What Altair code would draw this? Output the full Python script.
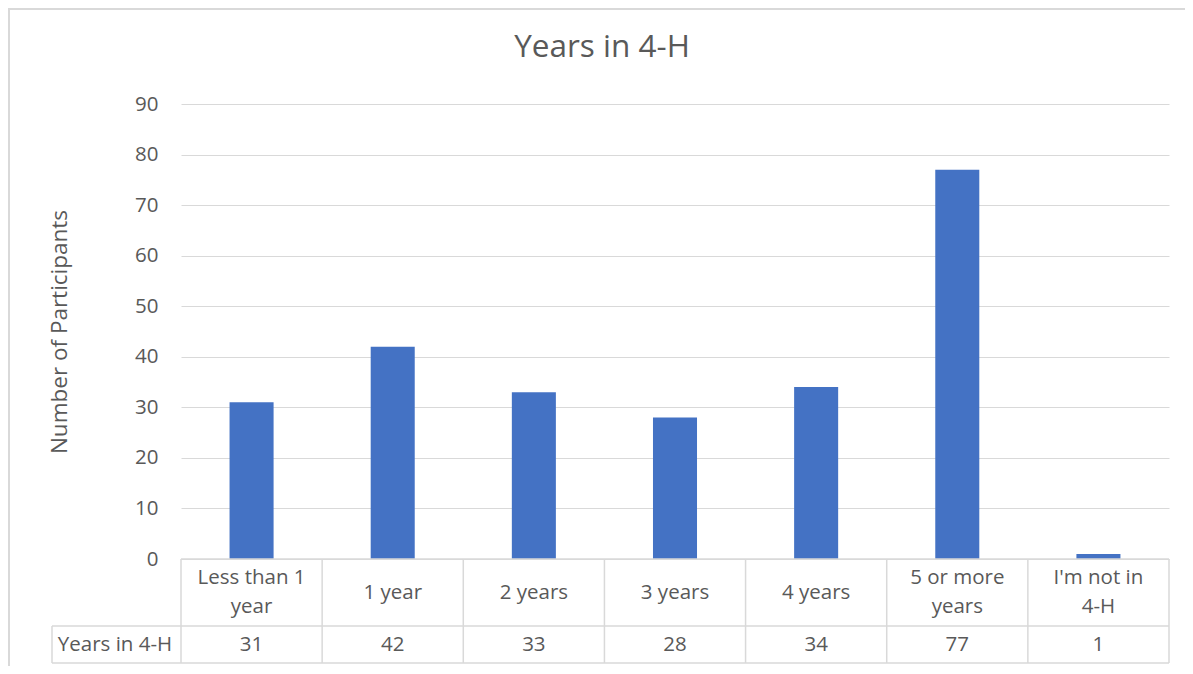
import altair as alt
import pandas as pd

categories = ["Less than 1 year", "1 year", "2 years", "3 years", "4 years",
              "5 or more years", "I'm not in 4-H"]
label_line1 = ["Less than 1", "1 year", "2 years", "3 years", "4 years",
               "5 or more", "I'm not in"]
label_line2 = ["year", "", "", "", "", "years", "4-H"]
values = [31, 42, 33, 28, 34, 77, 1]
row_label = "Years in 4-H"
chart_title = "Years in 4-H"
y_title = "Number of Participants"
y_ticks = list(range(0, 100, 10))

W, H = 988, 455
FONT = "Open Sans"
GREY = "#595959"
LINE = "#d9d9d9"
BAR = "#4472c4"
FS = 20.5

df = pd.DataFrame({"cat": categories, "l1": label_line1, "l2": label_line2,
                   "value": values, "vtext": [str(v) for v in values]})
two = df["l2"] != ""
df["top"] = df["l1"].where(two, "")
df["mid"] = df["l1"].where(~two, "")
df["bot"] = df["l2"]
bounds = pd.DataFrame({"b": list(range(len(categories) + 1))})
one = pd.DataFrame({"t": [chart_title], "yt": [y_title], "rl": [row_label]})

xcat = alt.X("cat:N", sort=categories,
             scale=alt.Scale(domain=categories, paddingInner=0.688, paddingOuter=0.344),
             axis=None)

bars = alt.Chart(df).mark_bar(color=BAR).encode(
    x=xcat,
    y=alt.Y("value:Q", scale=alt.Scale(domain=[0, 90], nice=False),
            axis=alt.Axis(values=y_ticks, title=None, grid=True, gridColor=LINE,
                          gridWidth=1.2, domain=False, ticks=False, labelPadding=23,
                          labelFont=FONT, labelFontSize=FS, labelColor=GREY)),
)

txt = dict(font=FONT, fontSize=FS, color=GREY, baseline="middle")

single = alt.Chart(df).mark_text(**txt).encode(
    x=xcat, y=alt.value(489), text="mid:N")
first = alt.Chart(df).mark_text(**txt).encode(
    x=xcat, y=alt.value(474), text="top:N")
second = alt.Chart(df).mark_text(**txt).encode(
    x=xcat, y=alt.value(503), text="bot:N")

val_labels = alt.Chart(df).mark_text(**txt).encode(
    x=xcat, y=alt.value(541), text="vtext:N")

vlines = alt.Chart(bounds).mark_rule(color=LINE, strokeWidth=1.5).encode(
    x=alt.X("b:Q", scale=alt.Scale(domain=[0, len(categories)], nice=False, zero=False),
            axis=None),
    y=alt.value(H), y2=alt.value(559))

base1 = alt.Chart(one)
hline_top = base1.mark_rule(color=LINE, strokeWidth=1.5).encode(
    x=alt.value(0), x2=alt.value(W), y=alt.value(H))
hline_mid = base1.mark_rule(color=LINE, strokeWidth=1.5).encode(
    x=alt.value(-129), x2=alt.value(W), y=alt.value(522))
hline_bot = base1.mark_rule(color=LINE, strokeWidth=1.5).encode(
    x=alt.value(-129), x2=alt.value(W), y=alt.value(559))
vline_left = base1.mark_rule(color=LINE, strokeWidth=1.5).encode(
    x=alt.value(-129), y=alt.value(522), y2=alt.value(559))

row_text = base1.mark_text(**txt).encode(
    x=alt.value(-66), y=alt.value(541), text="rl:N")

title_text = base1.mark_text(font=FONT, fontSize=31.5, color=GREY, baseline="middle").encode(
    x=alt.value(421), y=alt.value(-56), text="t:N")

ytitle_text = base1.mark_text(font=FONT, fontSize=22.5, color=GREY, baseline="middle",
                              angle=270).encode(
    x=alt.value(-121), y=alt.value(228), text="yt:N")

border_top = base1.mark_rule(color=LINE, strokeWidth=2).encode(
    x=alt.value(-173), x2=alt.value(W + 30), y=alt.value(-95))
border_left = base1.mark_rule(color=LINE, strokeWidth=2).encode(
    x=alt.value(-172), y=alt.value(-96), y2=alt.value(H + 120))

chart = alt.layer(
    bars, single, first, second, val_labels, vlines, hline_top, hline_mid, hline_bot,
    vline_left, row_text, title_text, ytitle_text, border_top, border_left
).resolve_scale(x="independent").properties(
    width=W, height=H,
    autosize=alt.AutoSizeParams(type="none"),
    padding={"left": 173, "top": 96, "right": 16, "bottom": 107},
    background="white",
).configure_view(stroke=None)

chart.save("out.html", embed_options={"renderer": "svg", "actions": False})
